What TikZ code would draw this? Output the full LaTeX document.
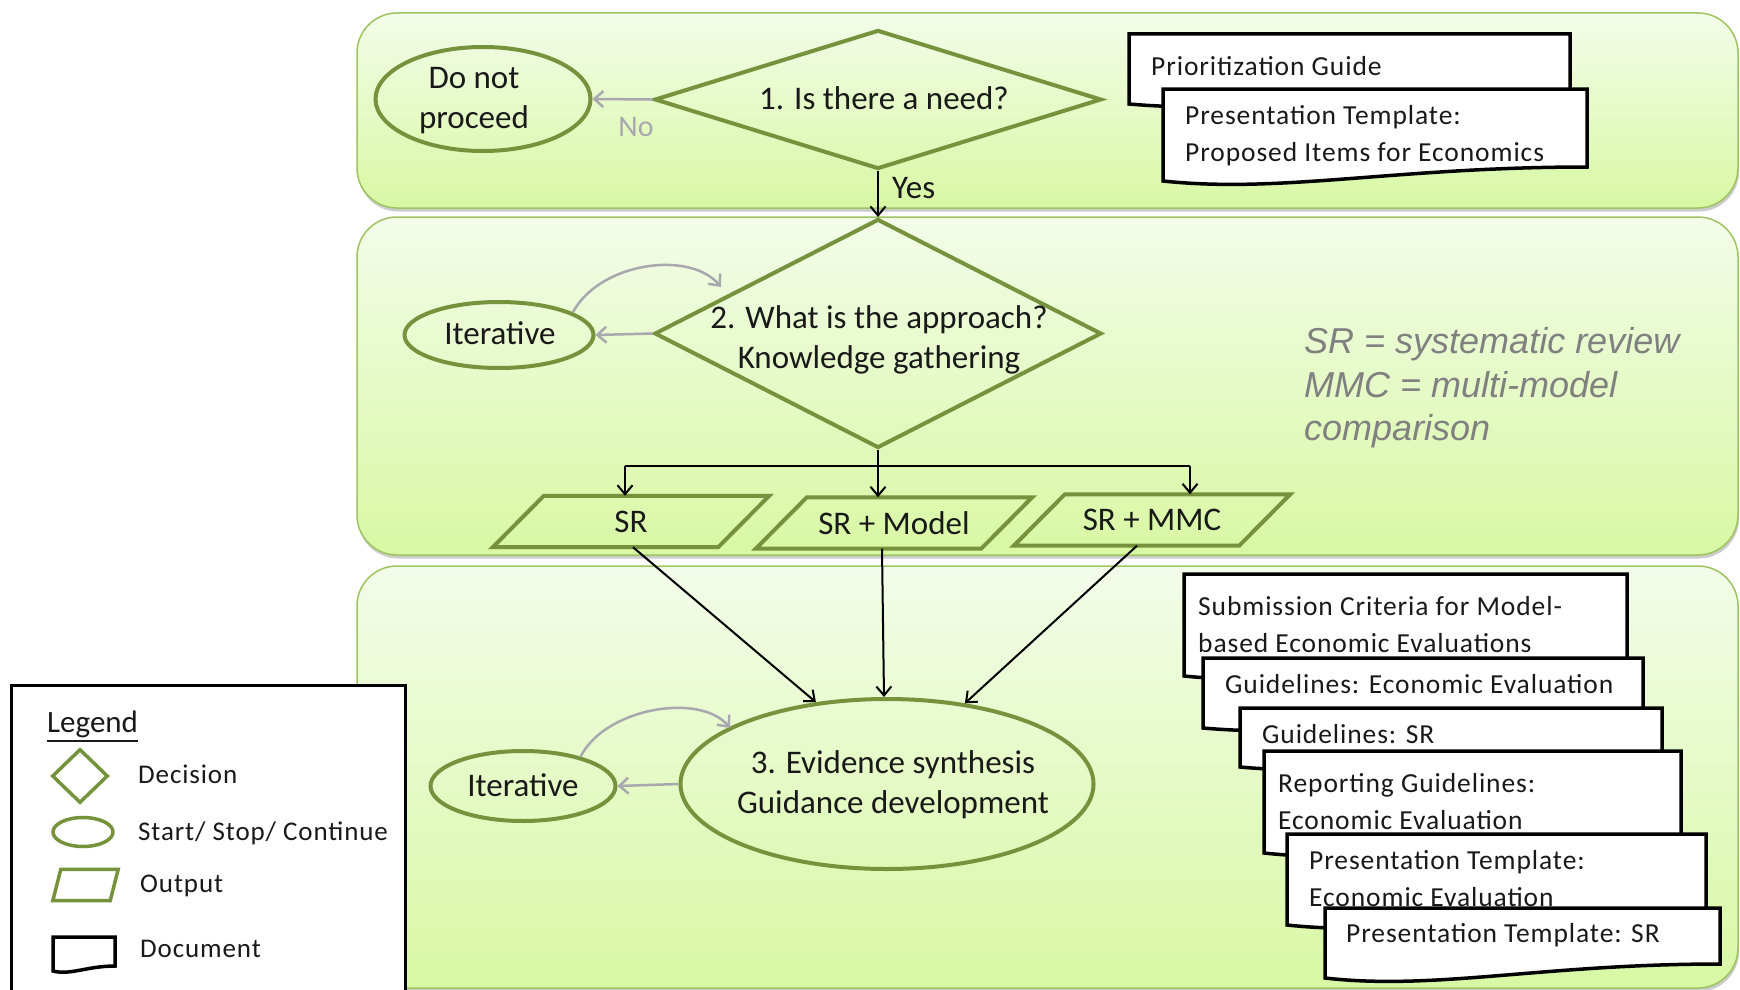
\documentclass[tikz,border=0pt]{standalone}
\usepackage{fontspec}
\setmainfont{Carlito}
\newfontfamily\arialfont{Liberation Sans}
\newfontfamily\docfont[LetterSpace=3.3]{Carlito}
\usetikzlibrary{shapes.geometric,arrows.meta,shadows,calc}

\definecolor{olive}{RGB}{118,146,60}
\definecolor{bandtop}{RGB}{243,252,233}
\definecolor{bandbot}{RGB}{216,248,164}
\definecolor{bandline}{RGB}{158,196,98}
\definecolor{grayarr}{RGB}{168,168,174}
\definecolor{notegray}{RGB}{128,128,128}
\definecolor{ink}{RGB}{25,25,25}

\newcommand\docpath[5]{%
  \filldraw[docline] (#1,#2) -- (#3,#2) -- (#3,{#4-#5})
    .. controls ({#3-0.45*(#3-#1)},{#4-#5}) and ({#1+0.28*(#3-#1)},{#4+0.9*#5}) .. (#1,#4) -- cycle;}
% parallelogram drawn round a named rectangle node: #2 name, #3 half slant
\newcommand\para[3][4pt]{%
  \draw[draw=olive, line width=#1, line join=miter]
    ([xshift=#3]#2.north west) -- ([xshift=#3]#2.north east) --
    ([xshift=-#3]#2.south east) -- ([xshift=-#3]#2.south west) -- cycle;}

\tikzset{
  band/.style={rounded corners=40pt, top color=bandtop, bottom color=bandbot,
    draw=bandline, line width=1.5pt,
    drop shadow={opacity=0.4, shadow xshift=1pt, shadow yshift=-3.5pt}},
  dec/.style={diamond, draw=olive, line width=4pt, inner sep=0pt},
  term/.style={ellipse, draw=olive, line width=4pt, inner sep=0pt},
  outbox/.style={rectangle, inner sep=0pt, minimum width=225pt, minimum height=51pt,
    text=ink, font=\fontsize{33}{40}\selectfont},
  mtext/.style={inner sep=0pt, align=center, text=ink, font=\fontsize{33}{40}\selectfont},
  doctext/.style={anchor=west, align=left, inner sep=0pt, text=ink,
    font=\docfont\fontsize{27.5}{37}\selectfont},
  legtext/.style={anchor=west, inner sep=0pt, text=ink, font=\docfont\fontsize{27}{34}\selectfont},
  docline/.style={draw=black, fill=white, line width=3.5pt, line join=miter},
  arr/.style={-{Straight Barb[length=9pt,width=15pt]}, line width=2pt, draw=black},
  garr/.style={-{Straight Barb[length=9pt,width=16pt]}, line width=2.5pt, draw=grayarr},
}

\begin{document}
\begin{tikzpicture}[x=1pt,y=-1pt]
\useasboundingbox (0,0) rectangle (1740,990);
\clip (0,0) rectangle (1740,990);

% bands
\path[band] (357,13) rectangle (1738,208);
\path[band] (357,217) rectangle (1738,555);
\path[band] (357,566) rectangle (1738,988);

% ---- band 1
\node[term, minimum width=215pt, minimum height=104pt] (dnp) at (483,99) {};
\node[mtext] (dnpt) at (474,101) {Do not\\proceed};
\node[dec, minimum width=447pt, minimum height=139pt] (d1) at (878,99.5) {};
\node[mtext] (d1t) at (884,98) {1. Is there a need?};
\draw[garr] (d1.west) -- (dnp.east);
\node[mtext, text=grayarr, font=\fontsize{30}{36}\selectfont] (nolab) at (636,127) {No};

\docpath{1129}{34}{1570}{104}{12}
\node[doctext] (docA) at (1151,66) {Prioritization Guide};
\docpath{1163}{89}{1587}{181}{14}
\node[doctext] (docB) at (1185,136) {Presentation Template:\\Proposed Items for Economics};

% ---- band 2
\node[dec, minimum width=447pt, minimum height=229pt] (d2) at (878,333.5) {};
\node[mtext] (d2t) at (879,340) {2. What is the approach?\\Knowledge gathering};
\draw[arr] (d1.south) -- (d2.north);
\node[mtext, anchor=west] (yeslab) at (892,188) {Yes};

\node[term, minimum width=189pt, minimum height=66pt] (it1) at (499,335) {};
\node[mtext] (it1t) at (500,333) {Iterative};
\draw[garr] (d2.west) -- (it1.east);
\coordinate (loop1) at (721,287);
\draw[garr] (it1.17) .. controls (600,262) and (690,250) .. (loop1);

\node[outbox] (p1) at (631,521.5) {SR};
\node[outbox] (p2) at (894,523) {SR + Model};
\node[outbox] (p3) at (1152,520) {SR + MMC};
\para{p1}{25.5pt}
\para{p2}{25.5pt}
\para{p3}{25.5pt}

\coordinate (br) at (878,466);
\draw[line width=2pt] (d2.south) -- (br);
\draw[line width=2pt] (br) -- (625,466) (br) -- (1190,466);
\draw[arr] (625,466) -- ([xshift=-6pt]p1.north);
\draw[arr] (br) -- (br |- p2.north);
\draw[arr] (1190,466) -- ([xshift=38pt]p3.north);

\node[inner sep=0pt, anchor=west, align=left, text=notegray,
  font=\arialfont\itshape\fontsize{36}{43.5}\selectfont] (note) at (1304,388)
  {SR = systematic review\\MMC = multi-model\\comparison};

% ---- band 3
\node[term, minimum width=413pt, minimum height=170pt] (e3) at (887,784) {};
\node[mtext] (e3t) at (893,785) {3. Evidence synthesis\\Guidance development};
\node[term, minimum width=185pt, minimum height=70pt] (it2) at (523,786) {};
\node[mtext] (it2t) at (523,785) {Iterative};
\draw[garr] (e3.west) -- (it2.east);
\coordinate (loop2) at (730,728);
\draw[garr] (it2.27) .. controls (605,708) and (700,692) .. (loop2);

\draw[arr] ([xshift=2pt]p1.south) -- (e3.131);
\draw[arr] ([xshift=-12pt]p2.south) -- ([xshift=-3pt]e3.north);
\draw[arr] ([xshift=-15pt]p3.south) -- (e3.46);

\docpath{1184}{574}{1627}{676}{14}
\node[doctext] (dc1) at (1198,625) {Submission Criteria for Model-\\based Economic Evaluations};
\docpath{1203}{658}{1643}{728}{12}
\node[doctext] (dc2) at (1225,684) {Guidelines: Economic Evaluation};
\docpath{1240}{708}{1662}{767}{12}
\node[doctext] (dc3) at (1262,734) {Guidelines: SR};
\docpath{1264}{751}{1681}{853}{14}
\node[doctext] (dc4) at (1278,801.5) {Reporting Guidelines:\\Economic Evaluation};
\docpath{1287}{834}{1706}{925}{14}
\node[doctext] (dc5) at (1309,878.5) {Presentation Template:\\Economic Evaluation};
\docpath{1325}{908}{1720}{978}{14}
\node[doctext] (dc6) at (1346,935) {Presentation Template: SR};

% ---- legend
\draw[line width=3pt, fill=white] (11,685) rectangle (405,1010);
\node[anchor=west, inner sep=0pt, text=ink, font=\fontsize{31}{36}\selectfont] (legt) at (47,724) {Legend};
\draw[line width=2pt, draw=ink] ([yshift=-3pt]legt.south west) -- ([yshift=-3pt]legt.south east);
\node[diamond, draw=olive, line width=3.5pt, inner sep=0pt, minimum width=56pt, minimum height=54pt] (lgdec) at (80,776) {};
\node[legtext] (lgdect) at (138,774) {Decision};
\node[ellipse, draw=olive, line width=3.5pt, inner sep=0pt, minimum width=60pt, minimum height=29pt] (lgell) at (83,832) {};
\node[legtext] (lgellt) at (138,833) {Start/ Stop/ Continue};
\node[rectangle, inner sep=0pt, minimum width=57pt, minimum height=31pt] (lgout) at (85.5,885) {};
\para[3.5pt]{lgout}{4pt}
\node[legtext] (lgoutt) at (140,886) {Output};
\docpath{53}{937}{115}{971}{5}
\node[legtext] (lgdoct) at (140,949) {Document};
\end{tikzpicture}
\end{document}
